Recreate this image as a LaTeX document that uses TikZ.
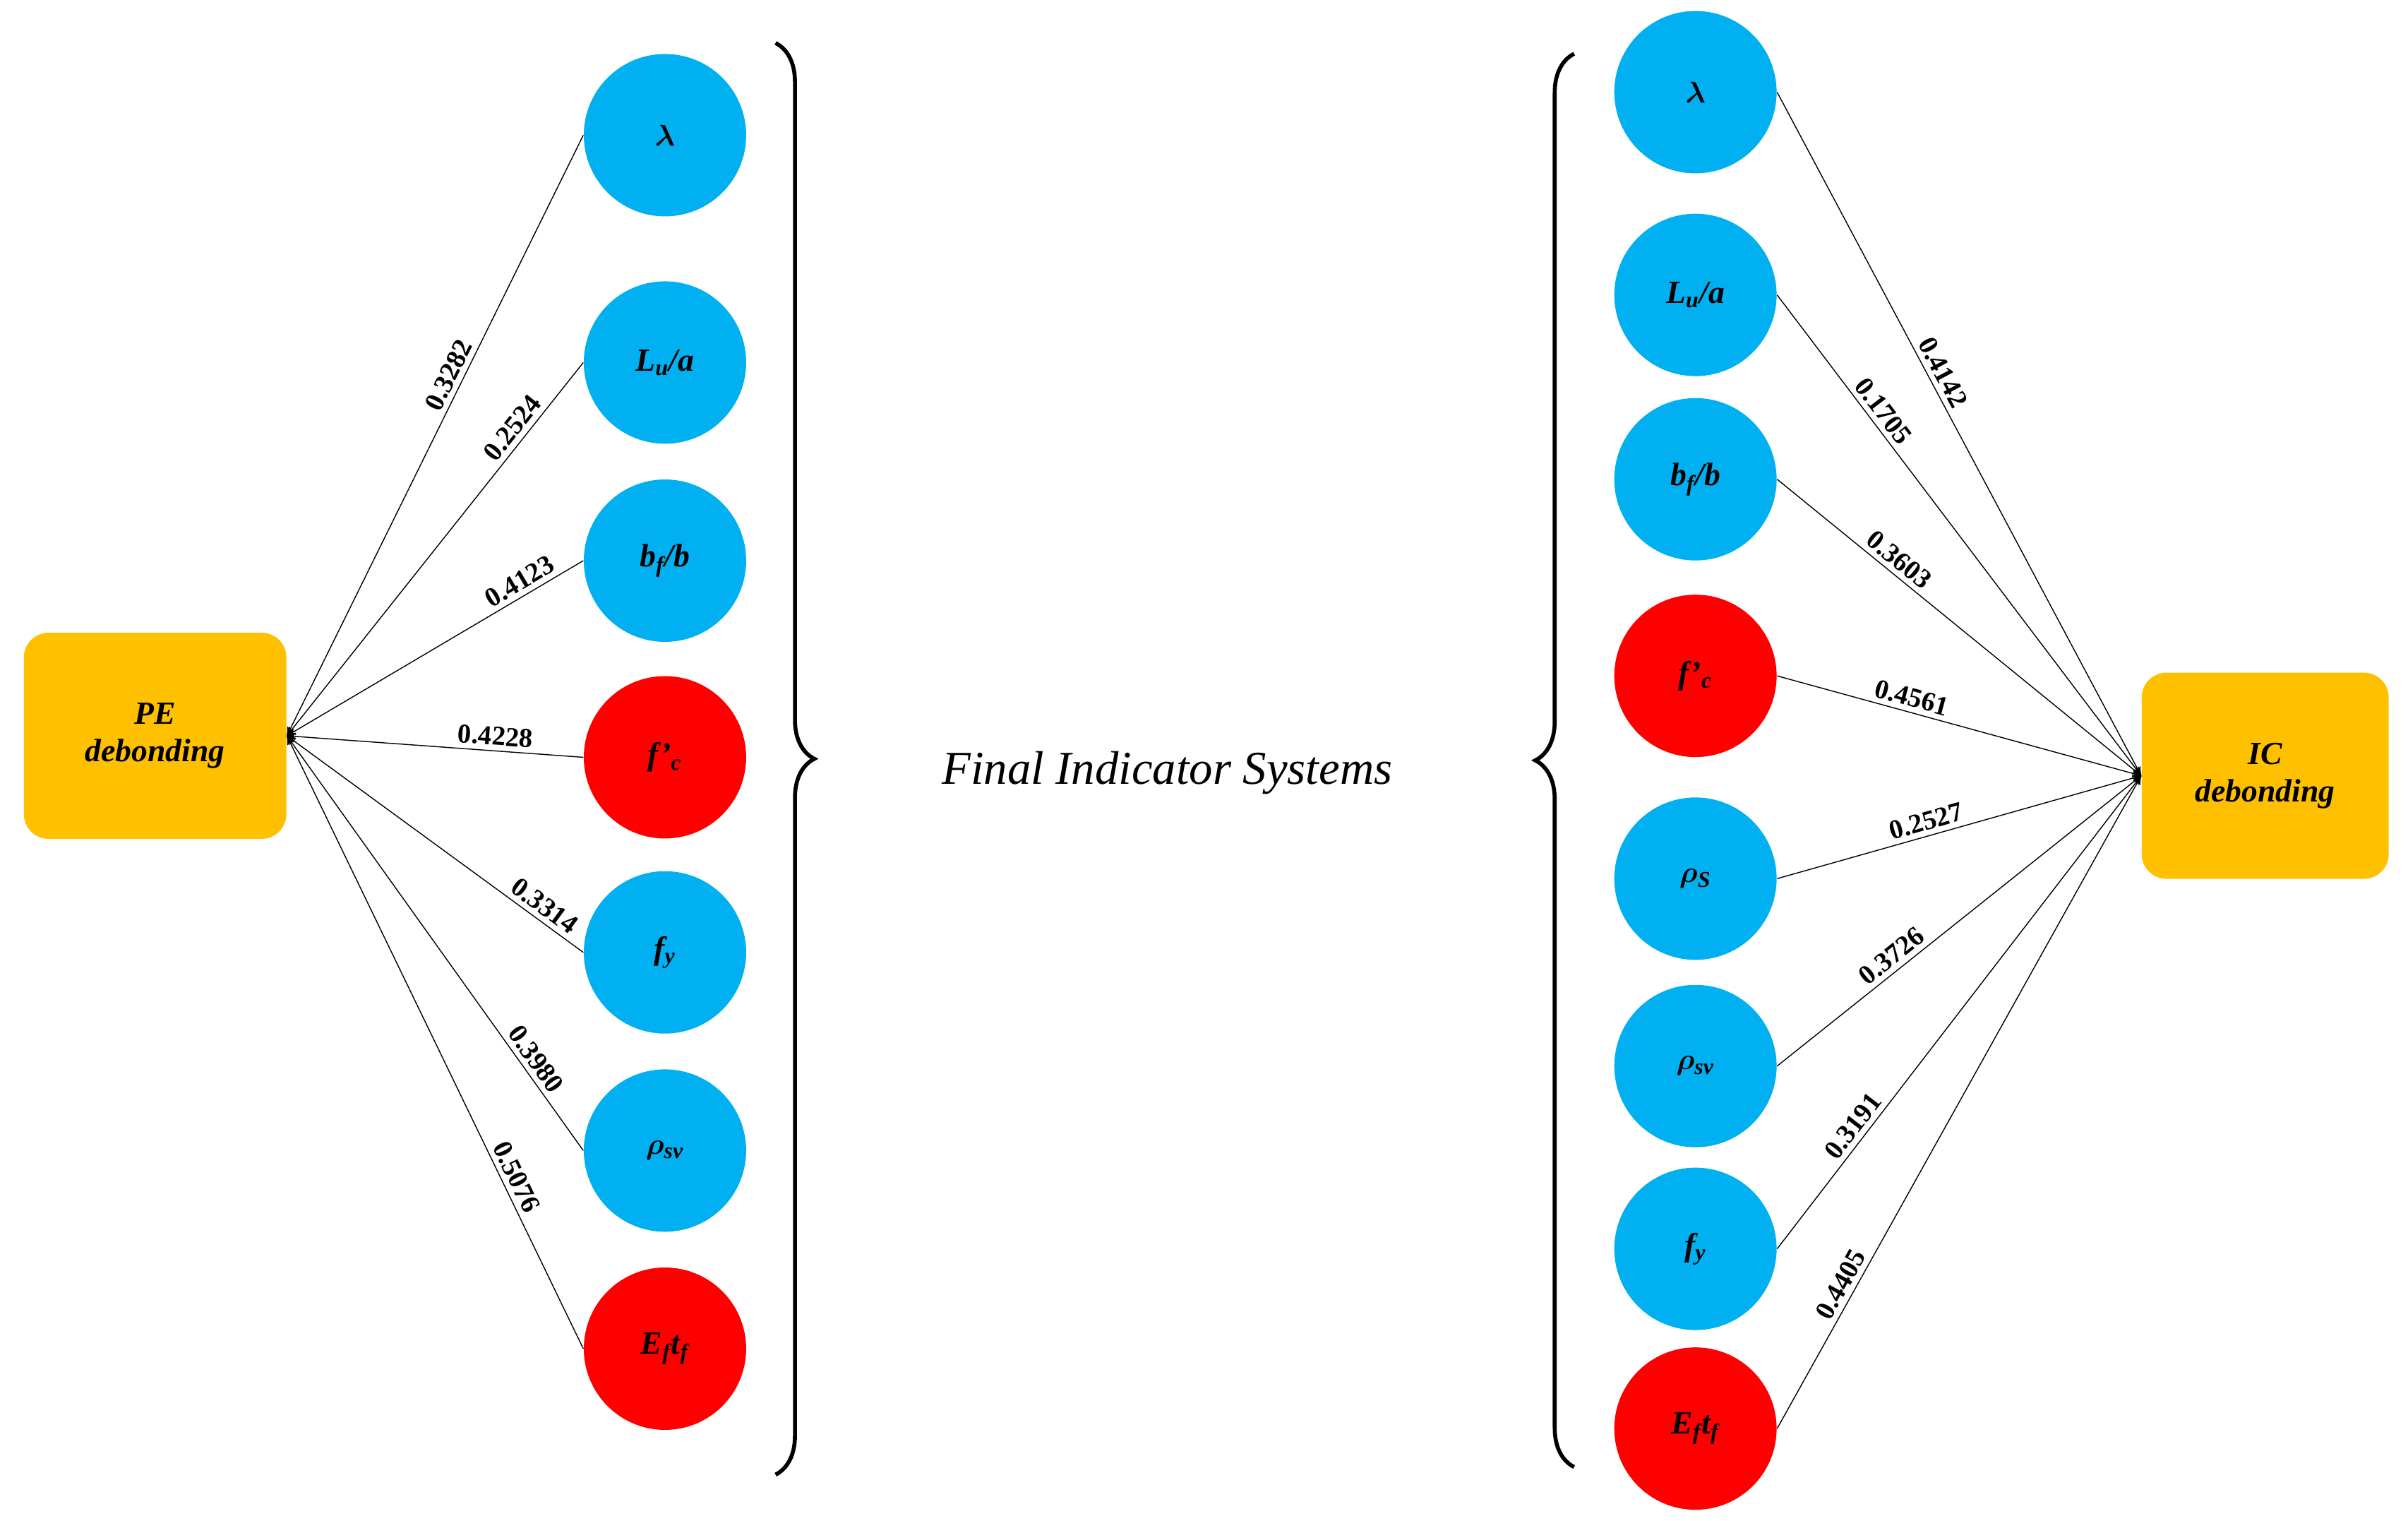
\documentclass[tikz,border=0pt]{standalone}
\usepackage{amsmath,amssymb}
\usepackage{fontspec}
\setmainfont{Liberation Serif}
\usetikzlibrary{arrows,decorations.pathreplacing}
\definecolor{cblue}{HTML}{00B0F0}
\definecolor{cred}{HTML}{FF0000}
\definecolor{cgold}{HTML}{FFC000}

\begin{document}
\begin{tikzpicture}[x=0.021754cm,y=-0.021754cm,->,>=stealth',thin,
  ind/.style={circle,fill=cblue,minimum size=2.3cm,inner sep=0pt,font=\fontsize{13}{15}\selectfont\bfseries\itshape},
  indr/.style={ind,fill=cred},
  res/.style={rectangle,rounded corners=0.35cm,fill=cgold,align=center,font=\fontsize{13}{15}\selectfont\bfseries\itshape},
  wt/.style={sloped,above,inner sep=2pt,font=\fontsize{11}{13}\selectfont\bfseries}]
\useasboundingbox (0,0) rectangle (1568,990);

% left system
\node[res,minimum width=3.72cm,minimum height=2.92cm](pe) at (101,479) {PE\\debonding};
\node[ind](la1) at (433,88) {$\boldsymbol{\lambda}$};
\node[ind](lu1) at (433,236) {L\textsubscript{u}/a};
\node[ind](bf1) at (433,365) {b\textsubscript{f}/b};
\node[indr](fc1) at (433,493) {f'\textsubscript{c}};
\node[ind](fy1) at (433,620) {f\textsubscript{y}};
\node[ind](rv1) at (433,749) {$\boldsymbol{\rho}$\textsubscript{sv}};
\node[indr](ef1) at (433,878) {E\textsubscript{f}t\textsubscript{f}};

\draw(la1.west)--node[wt,pos=0.41]{0.3282}(pe.east);
\draw(lu1.west)--node[wt,pos=0.2]{0.2524}(pe.east);
\draw(bf1.west)--node[wt,pos=0.19]{0.4123}(pe.east);
\draw(fc1.west)--node[wt,pos=0.3]{0.4228}(pe.east);
\draw(fy1.west)--node[wt,pos=0.16]{0.3314}(pe.east);
\draw(rv1.west)--node[wt,pos=0.2]{0.3980}(pe.east);
\draw(ef1.west)--node[wt,pos=0.27]{0.5076}(pe.east);

% right system
\node[res,minimum width=3.5cm,minimum height=2.92cm](ic) at (1475,505) {IC\\debonding};
\node[ind](la2) at (1104,60) {$\boldsymbol{\lambda}$};
\node[ind](lu2) at (1104,192) {L\textsubscript{u}/a};
\node[ind](bf2) at (1104,312) {b\textsubscript{f}/b};
\node[indr](fc2) at (1104,440) {f'\textsubscript{c}};
\node[ind](rs2) at (1104,572) {$\boldsymbol{\rho}$\textsubscript{S}};
\node[ind](rv2) at (1104,694) {$\boldsymbol{\rho}$\textsubscript{sv}};
\node[ind](fy2) at (1104,813) {f\textsubscript{y}};
\node[indr](ef2) at (1104,930) {E\textsubscript{f}t\textsubscript{f}};

\draw(la2.east)--node[wt,pos=0.42]{0.4142}(ic.west);
\draw(lu2.east)--node[wt,pos=0.26]{0.1705}(ic.west);
\draw(bf2.east)--node[wt,pos=0.31]{0.3603}(ic.west);
\draw(fc2.east)--node[wt,pos=0.36]{0.4561}(ic.west);
\draw(rs2.east)--node[wt,pos=0.42]{0.2527}(ic.west);
\draw(rv2.east)--node[wt,pos=0.34]{0.3726}(ic.west);
\draw(fy2.east)--node[wt,pos=0.24]{0.3191}(ic.west);
\draw(ef2.east)--node[wt,pos=0.21]{0.4405}(ic.west);

% braces and title
\node[font=\fontsize{19}{22}\selectfont\itshape](fis) at (760,503) {Final Indicator Systems};
\draw[-,line width=1.6pt,decoration={brace,amplitude=0.55cm},decorate] (505,28)--(505,960);
\draw[-,line width=1.6pt,decoration={brace,amplitude=0.55cm},decorate] (1025,955)--(1025,35);
\end{tikzpicture}
\end{document}
